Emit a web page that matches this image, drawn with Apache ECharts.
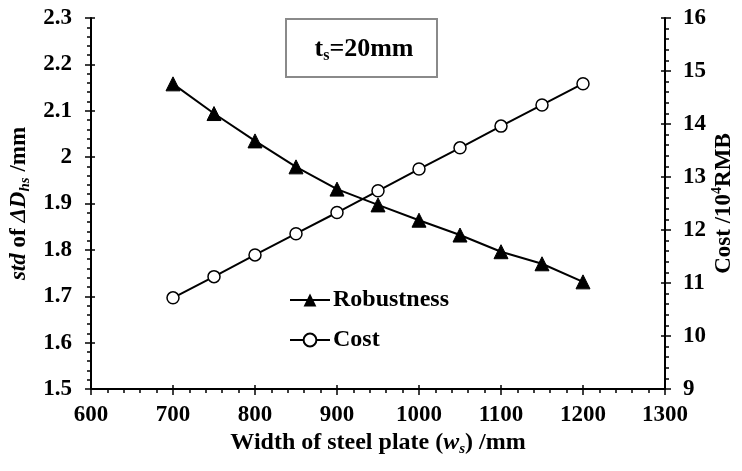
<!DOCTYPE html>
<html>
<head>
<meta charset="utf-8">
<script src="https://cdn.jsdelivr.net/npm/echarts@6/dist/echarts.min.js"></script>
<style>
  html, body { margin: 0; padding: 0; background: #fff; }
  #chart { width: 742px; height: 471px; }
</style>
</head>
<body>
<div id="chart"></div>
<script>
// Plate widths (mm) and the two response curves
const widths = [700, 750, 800, 850, 900, 950, 1000, 1050, 1100, 1150, 1200];
const robustness = [2.158, 2.094, 2.035, 1.979, 1.931, 1.897, 1.864, 1.832, 1.796, 1.770, 1.731];
const cost = [10.72, 11.12, 11.53, 11.93, 12.33, 12.74, 13.15, 13.55, 13.96, 14.36, 14.76];

// Axis ranges
const xRange = { min: 600, max: 1300, step: 100 };
const leftRange = { min: 1.5, max: 2.3, step: 0.1 };
const rightRange = { min: 9, max: 16, step: 1 };

const FONT = '"Liberation Serif", "Times New Roman", serif';
const INK = '#000';

const robustPts = widths.map((w, i) => [w, robustness[i]]);
const costPts = widths.map((w, i) => [w, cost[i]]);

const baseText = { fontFamily: FONT, fontWeight: 'bold', color: INK };
const labelStyle = Object.assign({ fontSize: 23 }, baseText);
const plain = v => String(v);

// Primary axis: outward major ticks + labels + inward minor ticks
function mainAxis(extra) {
  return Object.assign({
    type: 'value',
    nameMoveOverlap: false,
    axisLine: { show: true, lineStyle: { color: INK, width: 2 } },
    axisTick: { show: true, inside: false, length: 6, lineStyle: { color: INK, width: 1.5 } },
    minorTick: { show: true, splitNumber: 5, length: 4, lineStyle: { color: INK, width: 1.5 } },
    splitLine: { show: false },
    minorSplitLine: { show: false }
  }, extra);
}
// Companion axis drawing the inner half of each major tick
function innerTicks(extra) {
  return Object.assign({
    type: 'value',
    axisLine: { show: false },
    axisLabel: { show: false },
    axisTick: { show: true, inside: true, length: 4, lineStyle: { color: INK, width: 1.5 } },
    splitLine: { show: false }
  }, extra);
}

const chart = echarts.init(document.getElementById('chart'), null, { renderer: 'canvas' });

chart.setOption({
  backgroundColor: '#fff',
  animation: false,
  grid: { left: 91, right: 77, top: 18, bottom: 82, containLabel: false, outerBoundsMode: 'none' },
  xAxis: [
    mainAxis({
      min: xRange.min, max: xRange.max, interval: xRange.step,
      position: 'bottom',
      axisLabel: Object.assign({ margin: 15, formatter: plain }, labelStyle),
      name: '{b|Width of steel plate (}{i|w}{sub|s}{b|) /mm}',
      nameLocation: 'middle',
      nameGap: 40,
      nameTextStyle: {
        rich: {
          b: Object.assign({ fontSize: 24, lineHeight: 28 }, baseText),
          i: Object.assign({ fontSize: 24, fontStyle: 'italic', lineHeight: 28 }, baseText),
          sub: Object.assign({ fontSize: 15, fontStyle: 'italic', verticalAlign: 'bottom', lineHeight: 14 }, baseText)
        }
      }
    }),
    innerTicks({ min: xRange.min, max: xRange.max, interval: xRange.step, position: 'bottom' })
  ],
  yAxis: [
    mainAxis({
      min: leftRange.min, max: leftRange.max, interval: leftRange.step,
      position: 'left',
      axisLabel: Object.assign({ margin: 19, formatter: plain }, labelStyle),
      name: '{i|std}{b| of }{i|ΔD}{sub|hs}{b| /mm}',
      nameLocation: 'middle',
      nameRotate: 90,
      nameGap: 58,
      nameTextStyle: {
        rich: {
          b: Object.assign({ fontSize: 23, lineHeight: 28 }, baseText),
          i: Object.assign({ fontSize: 23, fontStyle: 'italic', lineHeight: 28 }, baseText),
          sub: Object.assign({ fontSize: 15, fontStyle: 'italic', verticalAlign: 'bottom', lineHeight: 14 }, baseText)
        }
      }
    }),
    mainAxis({
      min: rightRange.min, max: rightRange.max, interval: rightRange.step,
      position: 'right',
      axisLabel: Object.assign({ margin: 18, formatter: plain }, labelStyle),
      name: '{b|Cost /10}{sup|4}{b|RMB}',
      nameLocation: 'middle',
      nameRotate: 90,
      nameGap: 45,
      nameTextStyle: {
        rich: {
          b: Object.assign({ fontSize: 23, lineHeight: 28 }, baseText),
          sup: Object.assign({ fontSize: 14, verticalAlign: 'top', lineHeight: 14 }, baseText)
        }
      }
    }),
    innerTicks({ min: leftRange.min, max: leftRange.max, interval: leftRange.step, position: 'left' }),
    innerTicks({ min: rightRange.min, max: rightRange.max, interval: rightRange.step, position: 'right' })
  ],
  legend: {
    orient: 'vertical',
    left: 284,
    top: 283,
    itemWidth: 40,
    itemHeight: 16,
    itemGap: 16,
    textStyle: Object.assign({ fontSize: 24, padding: [0, 0, 0, -2] }, baseText),
    data: ['Robustness', 'Cost']
  },
  graphic: [
    {
      type: 'rect',
      shape: { x: 286, y: 19, width: 151, height: 58 },
      style: { fill: '#fff', stroke: '#8a8a8a', lineWidth: 2 },
      z: 10
    },
    {
      type: 'text',
      x: 364, y: 49,
      style: {
        text: '{t|t}{s|s}{t|=20mm}',
        align: 'center',
        verticalAlign: 'middle',
        rich: {
          t: Object.assign({ fontSize: 26, lineHeight: 30 }, baseText),
          s: Object.assign({ fontSize: 16, verticalAlign: 'bottom', lineHeight: 14 }, baseText)
        }
      },
      z: 11
    }
  ],
  series: [
    {
      name: 'Robustness',
      type: 'line',
      xAxisIndex: 0,
      yAxisIndex: 0,
      data: robustPts,
      symbol: 'triangle',
      symbolSize: 14,
      lineStyle: { color: INK, width: 2 },
      itemStyle: { color: INK, borderColor: INK },
      z: 3
    },
    {
      name: 'Cost',
      type: 'line',
      xAxisIndex: 0,
      yAxisIndex: 1,
      data: costPts,
      symbol: 'circle',
      symbolSize: 12,
      lineStyle: { color: INK, width: 2 },
      itemStyle: { color: '#fff', borderColor: INK, borderWidth: 1.5 },
      z: 3
    }
  ]
});
</script>
</body>
</html>
